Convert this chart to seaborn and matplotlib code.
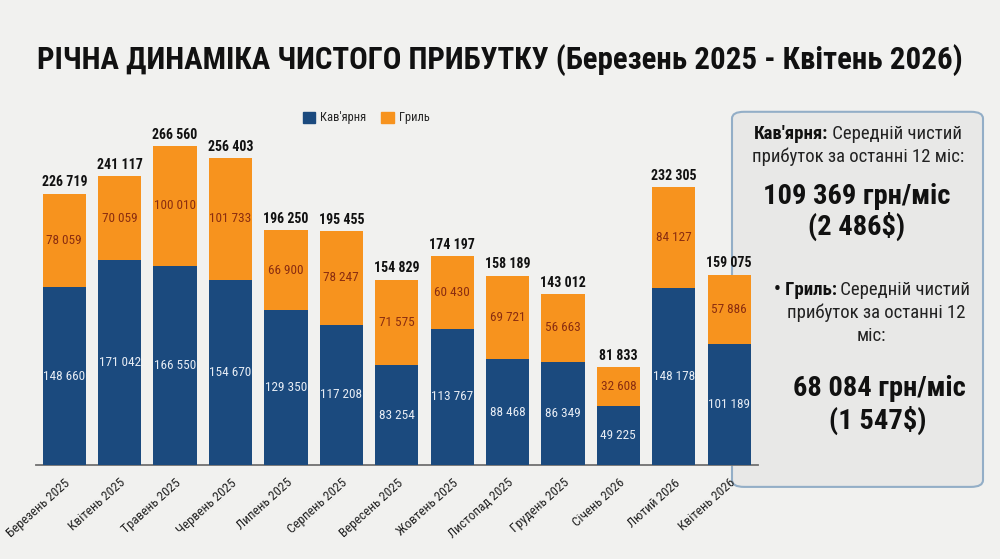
import numpy as np
import pandas as pd
import matplotlib
matplotlib.use('Agg')
import matplotlib.pyplot as plt
from matplotlib.patches import FancyBboxPatch, Patch
import seaborn as sns


months = ['Березень 2025', 'Квітень 2025', 'Травень 2025', 'Червень 2025',
          'Липень 2025', 'Серпень 2025', 'Вересень 2025', 'Жовтень 2025',
          'Листопад 2025', 'Грудень 2025', 'Січень 2026', 'Лютий 2026',
          'Квітень 2026']
cafe = [148660, 171042, 166550, 154670, 129350, 117208, 83254, 113767,
        88468, 86349, 49225, 148178, 101189]
grill = [78059, 70059, 100010, 101733, 66900, 78247, 71575, 60430,
         69721, 56663, 32608, 84127, 57886]
totals = [226719, 241117, 266560, 256403, 196250, 195455, 154829, 174197,
          158189, 143012, 81833, 232305, 159075]

BG = '#f1f1ef'
BLUE = '#1b4a7e'
ORANGE = '#f7931e'

sns.set_theme(style='white')
plt.rcParams['font.family'] = ['Roboto Condensed', 'DejaVu Sans']


def fmt(v):
    return f'{v:,}'.replace(',', ' ')


df = pd.DataFrame({'month': months, 'cafe': cafe, 'grill': grill, 'total': totals})

fig = plt.figure(figsize=(10, 5.59), dpi=100, facecolor=BG)
ax = fig.add_axes([0.036, 0.168, 0.722, 0.653])
ax.set_facecolor('none')

# orange = full total, blue drawn on top of it
sns.barplot(data=df, x='month', y='total', color=ORANGE, width=0.78,
            saturation=1, linewidth=0, ax=ax, zorder=2)
sns.barplot(data=df, x='month', y='cafe', color=BLUE, width=0.78,
            saturation=1, linewidth=0, ax=ax, zorder=3)

for i, row in df.iterrows():
    ax.text(i, row.cafe / 2, fmt(row.cafe), ha='center', va='center',
            color='#e6ecf4', fontsize=9.5, zorder=5)
    ax.text(i, (row.cafe + row.total) / 2, fmt(row.grill), ha='center',
            va='center', color='#8a2d10', fontsize=9.5, zorder=5)
    ax.annotate(fmt(row.total), (i, row.total), xytext=(0, 3),
                textcoords='offset points', ha='center', va='bottom',
                fontsize=10, fontweight='bold', color='#111111', zorder=5)

ax.set_xlim(-0.51, 12.52)
ax.set_ylim(0, 304800)
ax.set_xlabel('')
ax.set_ylabel('')
ax.set_yticks([])
sns.despine(ax=ax, left=True)
ax.spines['bottom'].set_color('#707070')
ax.spines['bottom'].set_linewidth(1.3)
ax.tick_params(axis='x', length=0, pad=8)
for lbl in ax.get_xticklabels():
    lbl.set_rotation(42)
    lbl.set_ha('right')
    lbl.set_rotation_mode('anchor')
    lbl.set_fontsize(9.5)
    lbl.set_color('#222222')

fig.text(0.5, 0.893, 'РІЧНА ДИНАМІКА ЧИСТОГО ПРИБУТКУ (Березень 2025 - Квітень 2026)',
         ha='center', va='center', fontsize=22.2, fontweight='bold', color='#111111')

handles = [Patch(color=BLUE), Patch(color=ORANGE)]
fig.legend(handles, ["Кав'ярня", 'Гриль'], loc='center',
           bbox_to_anchor=(0.366, 0.789), ncol=2, frameon=False, fontsize=9,
           handlelength=1, handleheight=1, columnspacing=1.2, handletextpad=0.4)

box = FancyBboxPatch((0.732, 0.129), 0.251, 0.671,
                     boxstyle='round,pad=0,rounding_size=0.012',
                     transform=fig.transFigure, facecolor='#e8e8e7',
                     edgecolor='#93aec7', linewidth=1.5, zorder=-1)
fig.patches.append(box)


def mixed_line(y, bold, rest, size):
    t1 = fig.text(0.5, y, bold, ha='left', va='center', fontsize=size,
                  fontweight='bold', color='#111111')
    t2 = fig.text(0.5, y, ' ' + rest, ha='left', va='center', fontsize=size,
                  color='#222222')
    return t1, t2


lines = [mixed_line(1 - 134 / 559, "Кав'ярня:", 'Середній чистий', 13.5),
         mixed_line(1 - 290 / 559, '• Гриль:', 'Середній чистий', 13.5)]
fig.canvas.draw()
r = fig.canvas.get_renderer()
for (t1, t2), cx in zip(lines, [0.858, 0.872]):
    w1 = t1.get_window_extent(r).width / fig.bbox.width
    w2 = t2.get_window_extent(r).width / fig.bbox.width
    x0 = cx - (w1 + w2) / 2
    t1.set_x(x0)
    t2.set_x(x0 + w1)

fig.text(0.858, 1 - 157 / 559, 'прибуток за останні 12 міс:', ha='center',
         va='center', fontsize=13.5, color='#222222')
fig.text(0.857, 1 - 196 / 559, '109 369 грн/міс', ha='center', va='center',
         fontsize=20.5, fontweight='bold', color='#111111')
fig.text(0.857, 1 - 226 / 559, '(2 486$)', ha='center', va='center',
         fontsize=20.5, fontweight='bold', color='#111111')
fig.text(0.876, 1 - 313 / 559, 'прибуток за останні 12', ha='center',
         va='center', fontsize=13.5, color='#222222')
fig.text(0.871, 1 - 336 / 559, 'міс:', ha='center', va='center',
         fontsize=13.5, color='#222222')
fig.text(0.879, 1 - 388 / 559, '68 084 грн/міс', ha='center', va='center',
         fontsize=20.5, fontweight='bold', color='#111111')
fig.text(0.878, 1 - 420 / 559, '(1 547$)', ha='center', va='center',
         fontsize=20.5, fontweight='bold', color='#111111')

fig.savefig('out.png', dpi=100, facecolor=BG)
